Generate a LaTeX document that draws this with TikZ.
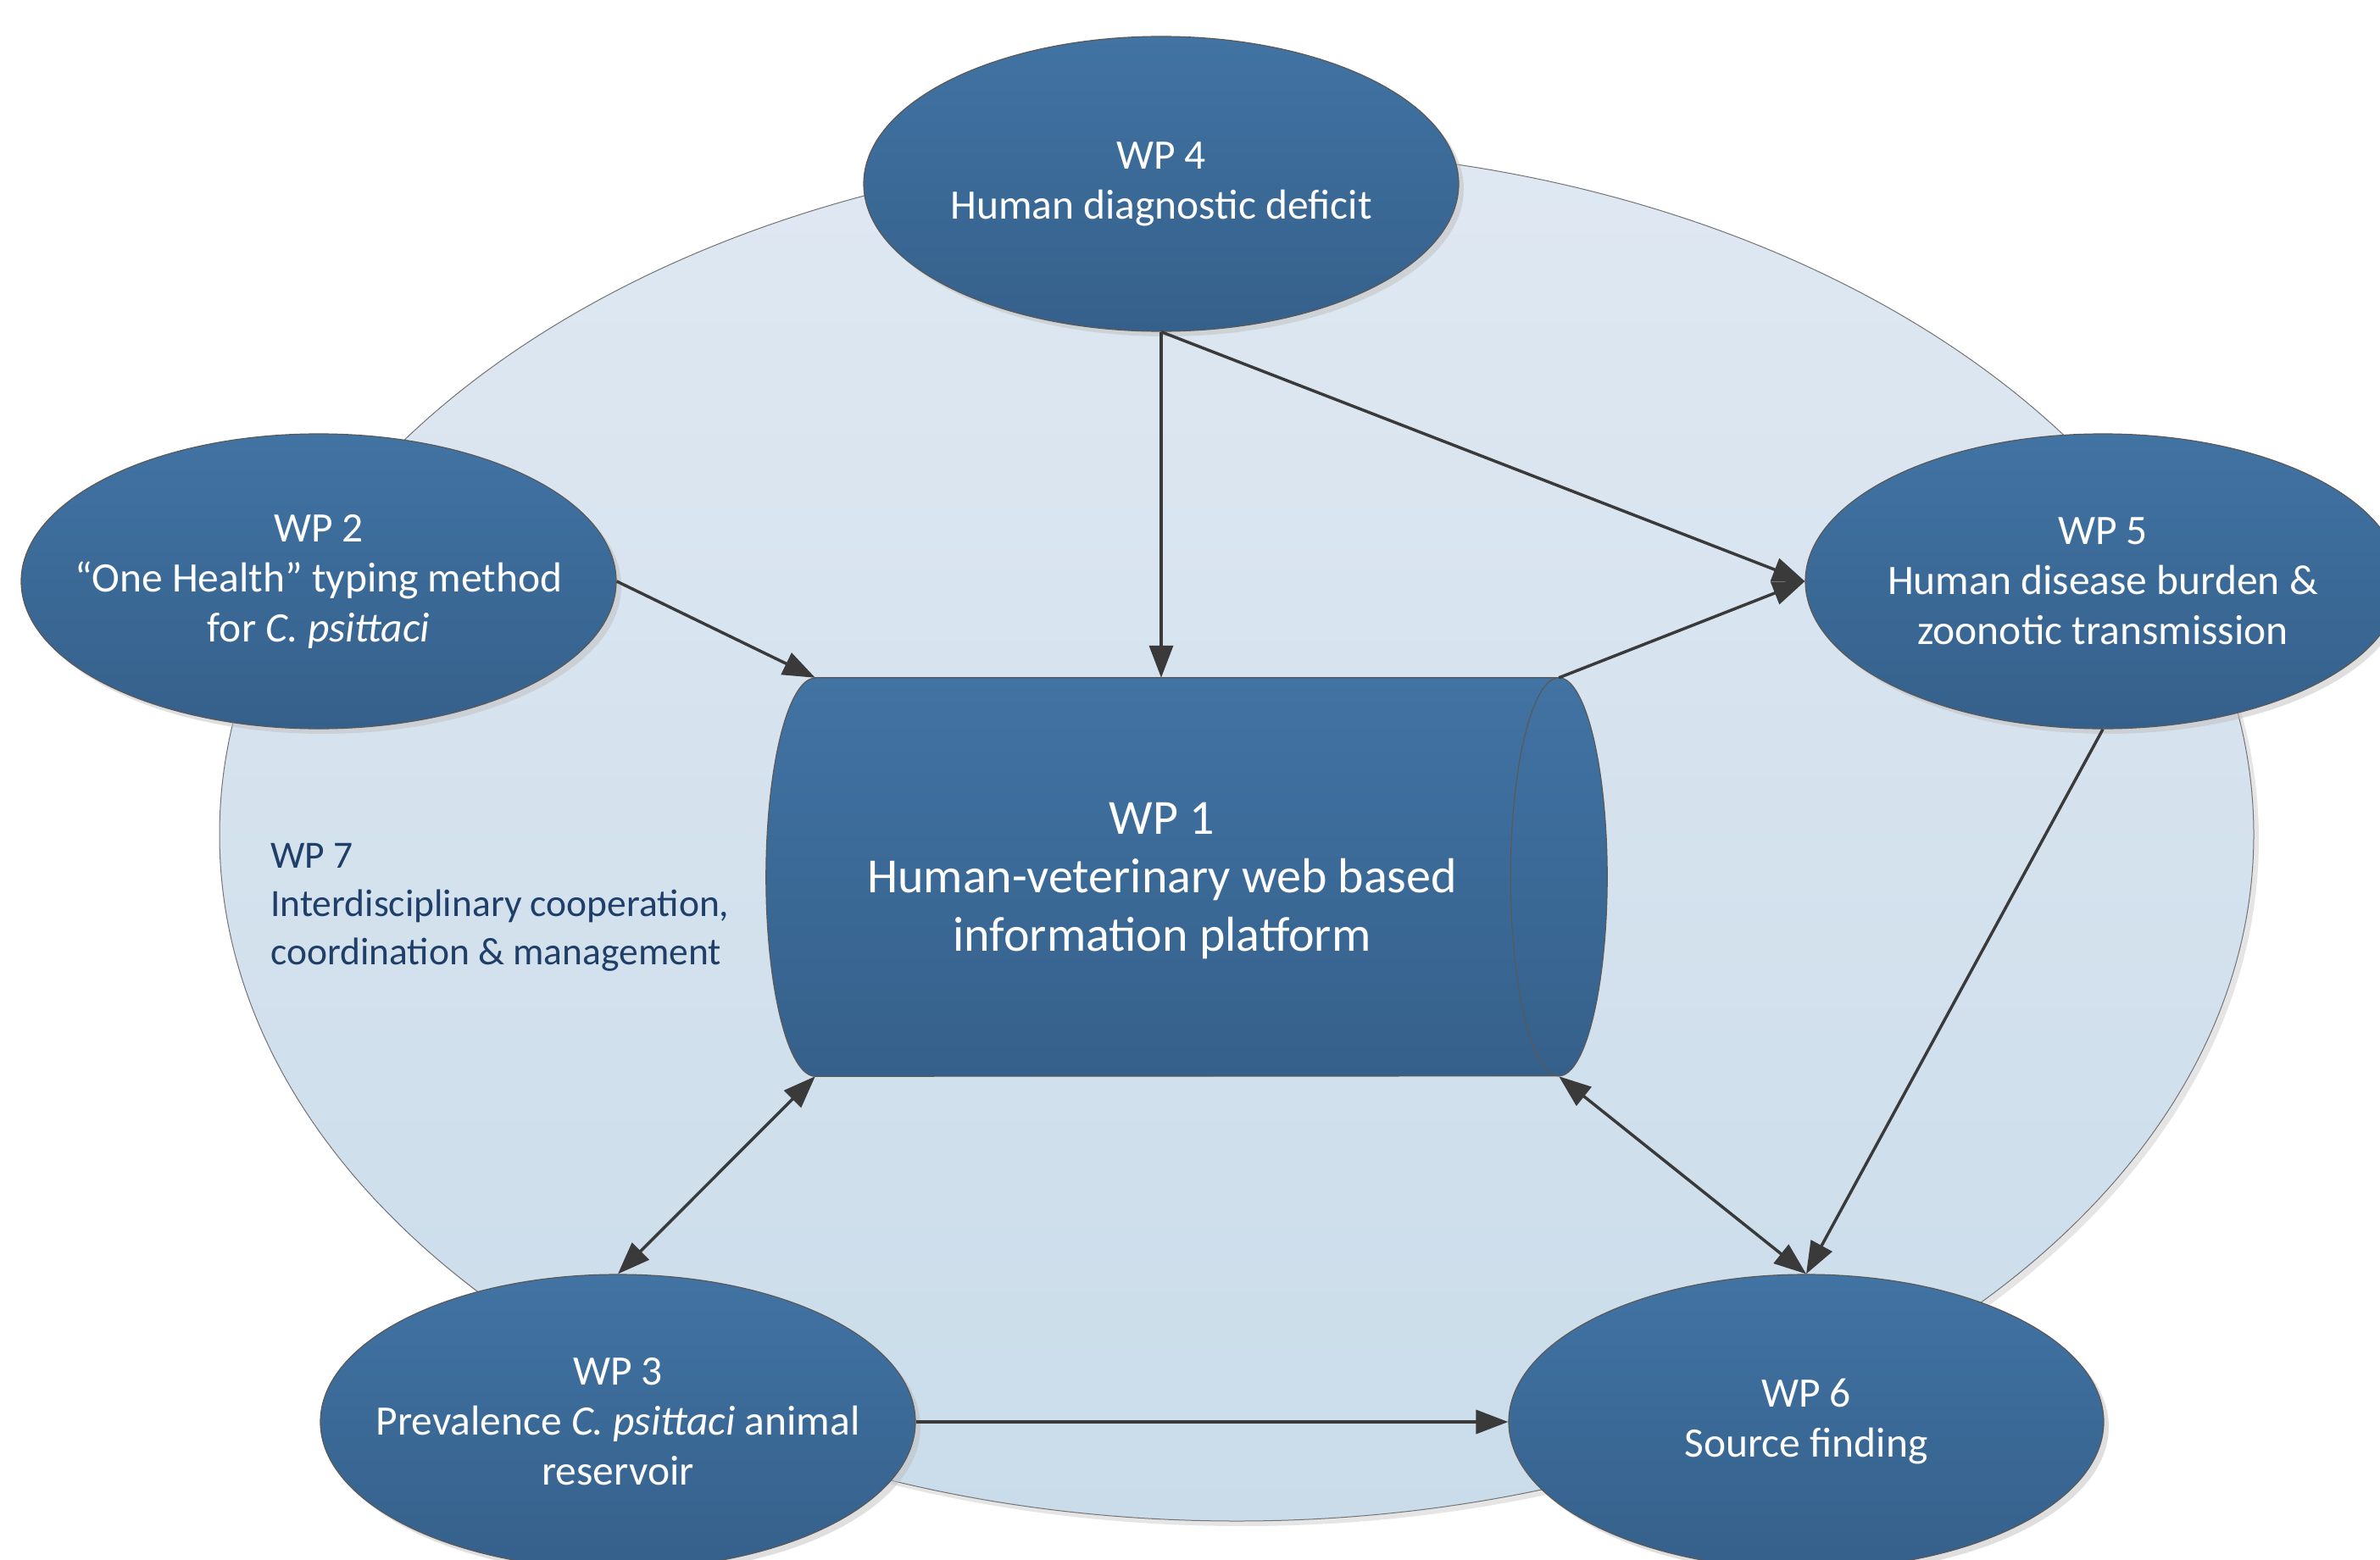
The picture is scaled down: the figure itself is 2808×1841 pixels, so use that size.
\documentclass[tikz,border=0pt]{standalone}
\usepackage{fontspec}
\setmainfont{Carlito}
\usetikzlibrary{arrows.meta,shapes.geometric,shadows}
\definecolor{nodetop}{HTML}{4173A3}
\definecolor{nodebot}{HTML}{35608B}
\definecolor{bgtop}{HTML}{DFE8F2}
\definecolor{bgbot}{HTML}{CADCEA}
\definecolor{edgecol}{HTML}{3A3A3A}
\definecolor{wpseven}{HTML}{1F3F68}
\begin{document}
\begin{tikzpicture}[x=1pt,y=-1pt,
  wpshape/.style={ellipse, draw=black!65, line width=1.2pt, top color=nodetop, bottom color=nodebot,
    inner sep=0pt, minimum width=702pt, minimum height=348pt,
    drop shadow={shadow xshift=6pt, shadow yshift=-6pt, fill=black!25, opacity=0.5}},
  wptext/.style={text=white, align=center, inner sep=0pt, font=\fontsize{49.5}{59}\selectfont},
  bgell/.style={ellipse, draw=black!55, line width=1pt, top color=bgtop, bottom color=bgbot,
    inner sep=0pt, minimum width=2400pt, minimum height=1620pt,
    drop shadow={shadow xshift=6pt, shadow yshift=-6pt, fill=black!20, opacity=0.5}},
  link/.style={draw=edgecol, line width=3.5pt, -{Triangle[length=38pt,width=28pt]}},
  dlink/.style={draw=edgecol, line width=3.5pt, {Triangle[length=38pt,width=28pt]}-{Triangle[length=38pt,width=28pt]}}]
\useasboundingbox (0,0) rectangle (2808,1841);
\clip (0,0) rectangle (2808,1841);

% background ellipse (WP 7)
\node[bgell] (area) at (1459,985) {};
\node[anchor=north west, align=left, inner sep=0pt, text=wpseven,
      font=\fontsize{45.5}{57}\selectfont] (wp7) at (319,995)
  {WP 7\\Interdisciplinary cooperation,\\coordination \& management};

% WP 1 cylinder
\node[draw=none, minimum width=877pt, minimum height=470pt, inner sep=0pt] (wp1) at (1400.5,1035) {};
\fill[black!25, opacity=0.5, xshift=6pt, yshift=-6pt]
  (wp1.north west) -- (wp1.north east)
  arc[start angle=90, end angle=-90, x radius=57pt, y radius=235pt]
  -- (wp1.south west)
  arc[start angle=270, end angle=90, x radius=58pt, y radius=235pt] -- cycle;
\draw[draw=black!65, line width=1.2pt, top color=nodetop, bottom color=nodebot]
  (wp1.north west) -- (wp1.north east)
  arc[start angle=90, end angle=-90, x radius=57pt, y radius=235pt]
  -- (wp1.south west)
  arc[start angle=270, end angle=90, x radius=58pt, y radius=235pt] -- cycle;
\draw[draw=black!65, line width=1.2pt]
  (wp1.north east) arc[start angle=90, end angle=270, x radius=57pt, y radius=235pt];
\node[text=white, align=center, inner sep=0pt, font=\fontsize{58}{69}\selectfont] (wp1text) at (1371,1039)
  {WP 1\\Human-veterinary web based\\information platform};

% other WPs
\node[wpshape] (wp4) at (1370,217) {};
\node[wptext] (wp4t) at (wp4) {WP 4\\Human diagnostic deficit};
\node[wpshape] (wp2) at (376,686) {};
\node[wptext] (wp2t) at (wp2) {WP 2\\“One Health” typing method\\for \textit{C.~psittaci}};
\node[wpshape] (wp5) at (2481,686) {};
\node[wptext] (wp5t) at (wp5) {WP 5\\Human disease burden \&\\zoonotic transmission};
\node[wpshape] (wp3) at (729,1678) {};
\node[wptext] (wp3t) at (wp3) {WP 3\\Prevalence \textit{C.~psittaci} animal\\reservoir};
\node[wpshape] (wp6) at (2131,1678) {};
\node[wptext] (wp6t) at (wp6) {WP 6\\Source finding};

% connectors
\draw[link] (wp4.south) -- (wp4.south |- wp1.north);
\draw[link] (wp4.south) -- (wp5.west);
\draw[link] (wp2.east) -- (wp1.north west);
\draw[link] (wp1.north east) -- (wp5.west);
\draw[link] (wp5.south) -- (wp6.north);
\draw[dlink] (wp1.south east) -- (wp6.north);
\draw[dlink] (wp1.south west) -- (wp3.north);
\draw[link] (wp3.east) -- (wp6.west);
\end{tikzpicture}
\end{document}
